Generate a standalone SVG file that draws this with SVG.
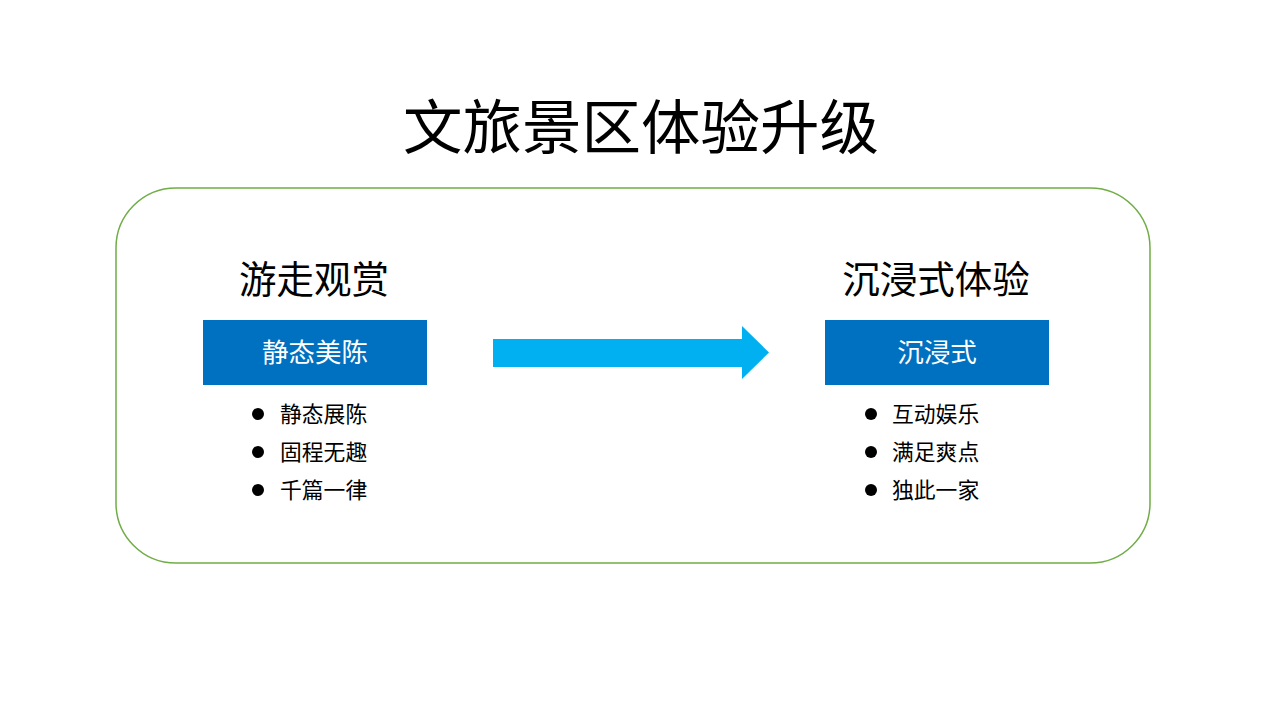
<svg xmlns="http://www.w3.org/2000/svg" width="1280" height="720" viewBox="0 0 1280 720">
<style>
text{font-family:"Noto Sans CJK SC","Microsoft YaHei",sans-serif;text-anchor:middle}
.title{font-size:59.5px;fill:#000}
.sub{font-size:37.5px;fill:#000}
.box{fill:#0070C0}
.boxt{font-size:26.5px;fill:#fff}
.item{font-size:21.8px;fill:#000;text-anchor:start}
.dot{fill:#000}
</style>
<rect width="1280" height="720" fill="#fff"/>
<text class="title" x="641" y="148.5">文旅景区体验升级</text>
<g id="frame"><rect x="116" y="188" width="1034" height="375" rx="60" ry="60" fill="none" stroke="#70AD47" stroke-width="1.5"/></g>
<g id="left">
<text class="sub" x="314" y="292.5">游走观赏</text>
<rect class="box" x="203" y="320" width="224" height="65"/>
<text class="boxt" x="315" y="361.5">静态美陈</text>
<circle class="dot" cx="258" cy="414" r="6"/><text class="item" x="280" y="422">静态展陈</text>
<circle class="dot" cx="258" cy="452" r="6"/><text class="item" x="280" y="460">固程无趣</text>
<circle class="dot" cx="258" cy="490" r="6"/><text class="item" x="280" y="498">千篇一律</text>
</g>
<g id="connectors">
<polygon points="493,339 742,339 742,326 769,352.5 742,379 742,367 493,367" fill="#00B0F0"/>
</g>
<g id="right">
<text class="sub" x="936" y="292.5">沉浸式体验</text>
<rect class="box" x="825" y="320" width="224" height="65"/>
<text class="boxt" x="937" y="361.5">沉浸式</text>
<circle class="dot" cx="871" cy="414" r="6"/><text class="item" x="892" y="422">互动娱乐</text>
<circle class="dot" cx="871" cy="452" r="6"/><text class="item" x="892" y="460">满足爽点</text>
<circle class="dot" cx="871" cy="490" r="6"/><text class="item" x="892" y="498">独此一家</text>
</g>
</svg>
